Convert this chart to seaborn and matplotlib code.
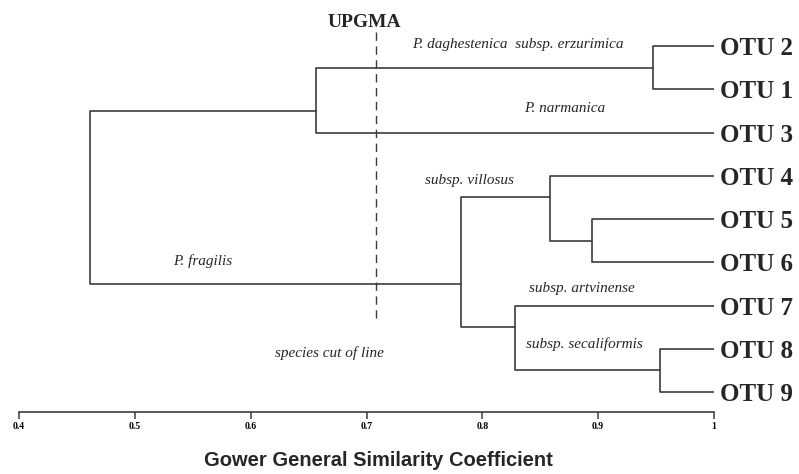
import numpy as np
import pandas as pd
import matplotlib
matplotlib.use("Agg")
import matplotlib.pyplot as plt
import seaborn as sns

# leaves of the dendrogram, top to bottom
leaf_names = ["OTU 2", "OTU 1", "OTU 3", "OTU 4", "OTU 5",
              "OTU 6", "OTU 7", "OTU 8", "OTU 9"]
leaf_similarity = 1.0

# UPGMA joins (children, similarity at the join, row where the joined branch leaves)
merge_names = ["n21", "n213", "n56", "n456", "n89", "n789", "n4to9", "root"]
merge_left = ["OTU 2", "n21", "OTU 5", "OTU 4", "OTU 8", "OTU 7", "n456", "n213"]
merge_right = ["OTU 1", "OTU 3", "OTU 6", "n56", "OTU 9", "n89", "n789", "n4to9"]
merge_similarity = [0.947, 0.656, 0.895, 0.858, 0.953, 0.828, 0.782, 0.461]
merge_rows = [0.5, 1.5, 4.5, 3.5, 7.5, 6.5, 5.5, 3.5]

cut_similarity = 0.708

tick_values = [0.4, 0.5, 0.6, 0.7, 0.8, 0.9, 1.0]
tick_labels = ["0.4", "0.5", "0.6", "0.7", "0.8", "0.9", "1"]

# taxon labels: text, similarity (x), row (y)
taxa_text = ["P. daghestenica  subsp. erzurimica", "P. narmanica", "P. fragilis",
             "subsp. villosus", "subsp. artvinense", "subsp. secaliformis",
             "species cut of line"]
taxa_x = [0.8305, 0.871, 0.5588, 0.789, 0.886, 0.888, 0.668]
taxa_row = [-0.03, 1.45, 4.97, 3.1, 5.6, 6.89, 7.1]

# node positions
sim = {name: leaf_similarity for name in leaf_names}
row = {name: i for i, name in enumerate(leaf_names)}
for n, s, r in zip(merge_names, merge_similarity, merge_rows):
    sim[n] = s
    row[n] = r

# one U-shaped link per join
recs = []
for n, l, r, s in zip(merge_names, merge_left, merge_right, merge_similarity):
    pts = [(sim[l], row[l]), (s, row[l]), (s, row[r]), (sim[r], row[r])]
    for k, (x, y) in enumerate(pts):
        recs.append({"link": n, "order": k, "sim": x, "row": y})
links = pd.DataFrame(recs)

sns.set_style("white")
plt.rcParams["font.family"] = ["Liberation Serif", "DejaVu Serif"]

fig = plt.figure(figsize=(7.99, 4.74), dpi=100)
ax = fig.add_axes([19 / 799, 62 / 474, 695 / 799, 412 / 474])

line_col = "#3c3c3c"
sns.lineplot(data=links, x="sim", y="row", units="link", estimator=None,
             sort=False, color=line_col, linewidth=1.2, ax=ax)

# species cut-off line
ax.plot([cut_similarity, cut_similarity], [-0.32, 6.4], color=line_col,
        linewidth=1.0, dashes=(6, 4))

ax.set_xlim(0.4, 1.0)
ax.set_ylim(8.46, -1.064)
ax.set_yticks([])
ax.set_ylabel("")
ax.set_xticks(tick_values)
ax.set_xticklabels(tick_labels, fontsize=7, fontweight="bold")
ax.tick_params(axis="x", direction="out", length=5, width=1.1, pad=2,
               colors=line_col, labelcolor="black", bottom=True)
sns.despine(ax=ax, left=True)
ax.spines["bottom"].set_color(line_col)
ax.spines["bottom"].set_linewidth(1.2)

ax.set_xlabel("Gower General Similarity Coefficient", fontsize=14.5,
              fontweight="bold", family=["Liberation Sans", "DejaVu Sans"])
ax.xaxis.set_label_coords((378 - 19) / 695, -(460 - 412) / 412)
ax.xaxis.label.set_va("center")

for i, name in enumerate(leaf_names):
    ax.annotate(name, (leaf_similarity, i), xytext=(4, 0), textcoords="offset points",
                ha="left", va="center_baseline", fontsize=18, fontweight="bold",
                annotation_clip=False)

for t, x, r in zip(taxa_text, taxa_x, taxa_row):
    ax.text(x, r, t, ha="center", va="center", fontsize=11, style="italic")

ax.text(0.6985, -0.55, "UPGMA", ha="center", va="center", fontsize=14,
        fontweight="bold")

fig.savefig("out.png", dpi=100)
